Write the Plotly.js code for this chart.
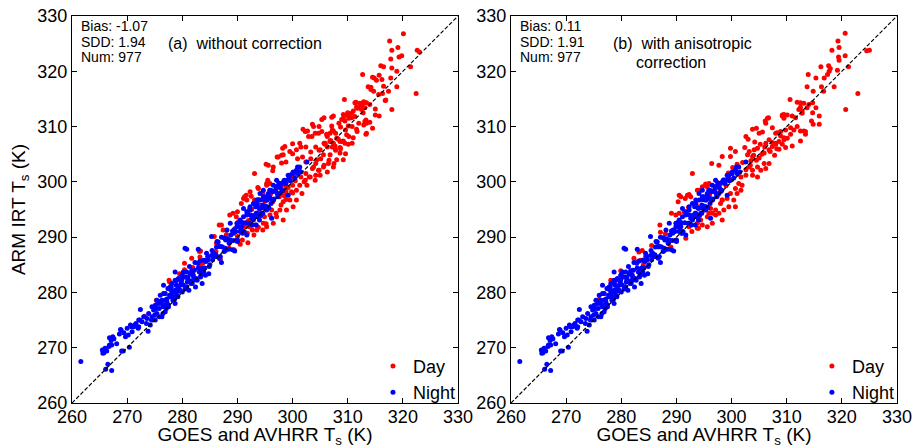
<!DOCTYPE html>
<html>
<head>
<meta charset="utf-8">
<script src="https://cdn.plot.ly/plotly-3.0.1.min.js"></script>
<style>html,body{margin:0;padding:0;background:#fff;}#chart{width:914px;height:448px;}</style>
</head>
<body>
<div id="chart"></div>
<script>
// ---- Data (x = GOES and AVHRR Ts, y = ARM IRT Ts), in K ----
const tickVals = [260, 270, 280, 290, 300, 310, 320, 330];
const oneToOneX = [260, 330];
const oneToOneY = [260, 330];

// Panel (a) daytime points
const dayA = [
[320.1,326.8],[317.6,325.5],[319.1,324.3],[318.0,323.8],[319.8,322.8],[317.8,322.2],[322.6,323.8],[323.0,323.5],[321.4,320.8],[318.0,320.6],
[316.0,321.0],[316.5,320.8],[318.9,320.0],[312.7,319.4],[314.8,318.8],[315.7,319.3],[316.2,318.5],[317.8,318.8],[316.5,317.3],[313.7,317.2],
[314.2,317.1],[318.9,317.2],[322.4,316.0],[314.7,316.4],[315.6,315.8],[317.4,316.4],[309.4,314.9],[311.5,314.4],[312.2,314.2],[312.8,314.2],
[313.4,314.3],[314.0,314.0],[311.9,313.4],[312.5,313.1],[313.1,313.4],[315.0,313.2],[316.8,314.7],[318.0,313.1],[311.0,312.8],[312.8,312.5],
[315.7,311.9],[314.0,310.8],[313.4,310.6],[309.2,312.2],[310.1,312.0],[310.7,311.6],[308.9,311.3],[309.5,311.0],[307.4,311.9],[305.7,311.6],
[310.1,310.1],[311.6,309.5],[313.3,308.6],[306.2,308.6],[307.4,309.2],[308.3,307.7],[309.2,307.4],[306.8,307.4],[305.9,306.8],[307.7,306.5],
[308.6,306.2],[310.1,306.8],[311.0,308.0],[307.1,310.1],[319.3,322.6],[315.2,318.4],[314.5,318.9],[314.2,316.7],[316.3,316.0],[316.9,314.8],
[311.3,314.3],[312.9,314.5],[311.7,313.3],[315.0,312.1],[310.0,312.5],[310.2,311.5],[313.3,311.2],[314.5,309.7],[310.8,310.0],[312.0,310.6],
[312.9,310.3],[308.4,310.6],[308.7,309.9],[307.1,311.7],[305.3,311.3],[303.6,310.4],[304.8,310.0],[302.7,309.2],[301.9,309.5],[307.2,309.4],
[307.8,308.8],[309.6,309.4],[311.7,309.1],[306.3,308.2],[306.9,307.5],[308.1,307.9],[309.0,307.3],[310.2,308.2],[310.8,307.0],[305.7,307.0],
[306.3,306.3],[307.2,306.3],[307.8,305.7],[308.7,306.0],[309.6,305.1],[304.2,306.3],[304.8,305.7],[303.3,305.4],[302.4,306.3],[301.5,306.3],
[300.0,306.9],[298.2,306.1],[297.2,304.5],[298.0,304.8],[298.8,303.6],[300.0,305.1],[300.9,304.2],[301.8,304.5],[302.4,303.6],[303.3,304.2],
[304.2,303.3],[305.1,304.2],[305.7,303.0],[306.6,303.9],[307.5,303.3],[303.6,302.4],[304.8,302.1],[306.3,301.8],[302.4,301.5],[301.2,302.1],
[301.5,300.9],[302.1,300.0],[303.0,300.9],[304.2,301.2],[300.6,301.5],[299.4,300.3],[298.5,299.4],[300.0,299.4],[293.1,301.5],[295.2,303.2],
[296.4,302.0],[295.5,300.3],[294.6,297.9],[293.1,296.7],[291.3,297.3],[290.7,296.1],[289.2,294.3],[288.6,294.0],[289.8,293.7],[292.2,295.2],
[294.0,295.8],[295.2,295.5],[296.4,296.4],[297.6,297.3],[298.8,298.2],[297.9,295.8],[297.0,294.3],[298.8,296.8],[300.0,298.0],[291.1,297.0],
[291.7,296.7],[292.3,298.2],[293.8,298.8],[295.3,299.4],[295.9,299.7],[295.6,303.0],[296.5,302.7],[297.4,304.5],[298.3,304.9],[298.0,303.4],
[298.6,306.4],[299.5,305.5],[300.7,305.8],[301.3,307.0],[302.3,309.1],[302.9,308.2],[303.5,308.2],[303.8,310.0],[304.1,308.8],[304.7,308.8],
[305.3,309.1],[306.2,308.5],[306.8,308.8],[305.0,305.8],[305.9,307.0],[306.8,307.3],[307.4,307.0],[308.0,307.9],[308.6,307.3],[309.5,307.0],
[309.8,308.5],[309.2,311.5],[309.8,312.1],[310.7,312.4],[311.3,311.8],[311.6,313.6],[312.5,313.9],[313.1,310.9],[313.4,308.8],[306.8,304.9],
[307.7,306.1],[308.6,305.2],[308.0,304.0],[309.2,304.0],[304.4,304.0],[305.6,304.9],[303.8,302.7],[304.7,302.1],[305.6,302.7],[306.5,303.3],
[307.4,302.7],[303.2,300.9],[304.1,300.3],[305.0,301.2],[302.3,300.3],[302.6,299.4],[301.3,299.4],[300.7,298.5],[301.7,297.9],[299.8,298.2],
[298.9,298.8],[299.5,296.7],[298.3,296.4],[300.7,296.7],[300.1,295.5],[298.9,294.9],[297.7,294.9],[297.1,293.7],[298.3,293.1],[296.5,292.5],
[295.3,291.9],[294.7,292.5],[293.5,291.3],[295.9,294.0],[296.2,294.9],[277.6,282.2],[280.4,284.1],[281.9,284.5],[283.3,287.5],[283.2,286.4],
[286.9,286.0],[287.1,292.2],[287.4,291.3],[290.0,294.6],[291.6,297.6],[292.5,297.4],[293.7,299.0],[295.3,299.7],[291.6,290.7],[292.2,291.9],
[294.0,294.6],[294.9,293.7],[286.7,292.2],[285.8,290.1],[286.2,288.9],[286.1,287.4],[283.1,287.4],[281.7,286.2],[280.4,285.3],[279.5,283.4],
[281.9,283.7],[277.7,281.9],[275.3,278.6],[283.1,285.0],[283.7,285.3],[288.5,288.0],[289.4,287.7],[290.9,289.5],[291.5,291.9],[292.7,291.3],
[293.3,292.2],[291.8,290.7],[290.0,290.1],[273.2,275.7],[292.0,293.0],[293.0,293.8],[294.2,294.0],[295.0,296.5],[296.0,297.8],[297.0,298.6],
[297.8,298.0],[298.5,297.5],[299.2,299.0],[299.8,300.8],[300.5,300.2],[293.8,296.8],[292.6,295.0],[291.0,292.6],[290.2,292.8],[289.5,291.5],
[288.0,290.5],[288.9,289.3],[287.8,289.6],[290.5,288.7],[291.9,289.0],[293.0,290.4],[294.6,291.3],[293.8,291.8],[295.2,292.4]
];

// Panel (a) night-time points
const nightA = [
[261.6,267.5],[266.1,266.1],[267.2,265.9],[266.5,267.0],[265.5,269.6],[266.0,269.9],[265.8,269.1],[266.3,269.4],[266.8,271.8],[267.4,272.0],
[267.1,271.3],[267.2,270.5],[266.7,270.2],[267.6,271.6],[269.0,269.4],[270.4,270.1],[268.1,270.7],[268.6,272.5],[268.8,273.3],[269.4,272.7],
[270.2,272.3],[270.8,273.8],[271.4,274.1],[272.0,273.5],[272.3,275.0],[273.0,275.6],[273.5,274.4],[273.8,273.0],[274.4,275.0],[275.0,275.9],
[275.3,277.1],[275.9,275.6],[276.5,276.2],[276.2,278.0],[276.8,278.6],[277.1,277.1],[277.7,279.5],[277.4,280.7],[278.0,281.0],[278.3,278.6],
[278.6,280.1],[278.9,281.3],[279.2,279.2],[279.5,280.4],[279.8,281.9],[279.9,283.1],[280.5,288.0],[280.2,283.7],[280.7,281.0],[281.0,282.5],
[281.3,284.7],[281.6,281.6],[281.9,283.1],[282.2,284.0],[282.5,282.5],[282.8,285.3],[283.1,283.7],[283.4,283.1],[283.7,284.4],[284.3,285.6],
[284.6,286.5],[284.9,284.7],[285.3,290.1],[285.5,285.9],[286.1,286.8],[286.7,286.2],[287.0,288.3],[287.1,285.4],[287.6,287.4],[287.9,289.5],
[288.5,288.9],[288.8,290.4],[289.1,287.7],[289.4,291.3],[290.0,289.2],[290.3,291.9],[290.9,290.7],[289.5,287.5],[282.9,287.8],[300.9,302.7],
[301.5,301.8],[300.0,301.5],[299.4,300.9],[298.5,300.3],[297.6,299.6],[297.0,299.1],[298.2,298.5],[296.4,298.2],[297.3,297.3],[295.8,297.3],
[295.2,296.7],[296.1,296.1],[294.6,295.8],[294.0,295.2],[295.2,295.2],[293.4,294.3],[294.6,294.3],[292.8,293.4],[294.0,293.1],[292.2,292.5],
[293.4,292.2],[265.6,269.0],[266.8,270.5],[269.3,269.4],[268.9,273.2],[269.7,272.0],[270.0,273.5],[270.6,274.1],[271.2,273.8],[270.9,272.9],
[271.6,274.4],[272.1,275.0],[272.7,274.7],[272.1,273.8],[273.6,275.3],[273.9,276.2],[274.5,275.6],[274.2,274.1],[274.8,276.8],[275.4,276.2],
[275.8,277.1],[275.1,275.0],[276.3,275.6],[272.4,276.9],[276.6,277.7],[277.2,278.3],[277.5,277.4],[276.9,276.5],[277.8,279.2],[278.4,278.6],
[278.1,279.8],[279.0,279.5],[278.7,280.4],[279.3,280.7],[279.6,281.3],[280.0,280.1],[280.6,281.0],[280.9,281.9],[281.2,280.4],[281.8,281.6],
[282.1,282.5],[282.4,281.0],[282.7,282.2],[283.3,282.8],[283.6,281.6],[284.2,283.1],[283.9,283.7],[284.8,283.4],[276.0,279.5],[276.3,278.6],
[276.9,279.8],[277.5,280.7],[278.1,281.6],[278.7,282.2],[279.3,282.5],[280.0,283.1],[280.6,282.8],[281.5,283.4],[275.7,278.0],[275.1,277.7],
[274.5,277.4],[275.4,278.6],[276.6,279.8],[277.8,281.0],[279.0,282.2],[280.2,282.8],[281.4,283.4],[279.6,280.4],[278.4,279.2],[280.8,281.0],
[282.0,282.2],[277.2,277.4],[278.7,278.0],[280.8,287.8],[278.7,283.7],[276.6,281.3],[284.4,285.8],[285.3,286.7],[286.2,288.2],[286.5,289.1],
[287.1,290.0],[287.8,287.6],[288.7,289.4],[289.3,290.7],[289.9,291.9],[290.5,293.1],[291.1,293.7],[291.7,294.6],[292.3,295.5],[293.5,296.1],
[294.1,296.7],[295.0,297.3],[295.9,298.5],[297.1,299.1],[298.0,299.7],[288.7,292.5],[288.1,291.3],[290.5,291.0],[291.7,290.4],[292.9,293.1],
[293.5,294.3],[295.3,295.5],[296.5,296.7],[295.6,297.9],[294.7,298.5],[291.1,295.2],[292.3,294.9],[292.9,296.1],[293.5,296.7],[294.1,297.9],
[294.7,297.3],[295.9,298.5],[296.5,299.4],[297.1,300.3],[297.7,299.1],[298.9,300.3],[299.5,301.2],[300.1,301.8],[300.7,302.1],[301.0,301.5],
[301.3,302.7],[302.6,303.6],[291.7,294.0],[292.6,293.4],[294.4,294.3],[295.3,294.9],[296.5,296.7],[296.2,293.4],[297.7,297.9],[299.2,297.6],
[289.9,292.5],[290.8,291.9],[289.6,291.0],[276.1,278.4],[276.5,277.4],[276.8,279.8],[277.2,278.8],[277.4,277.8],[277.9,280.5],[278.1,279.3],
[278.6,278.8],[278.8,282.1],[279.2,281.1],[279.4,280.2],[279.9,282.3],[280.1,281.4],[280.5,280.6],[280.8,283.7],[281.0,282.7],[281.4,282.0],
[281.7,283.9],[282.0,283.1],[282.3,285.4],[282.6,282.4],[282.9,284.4],[283.2,285.7],[283.5,284.2],[283.9,285.8],[284.1,284.4],[284.4,287.1],
[284.7,285.9],[285.0,285.0],[285.4,287.6],[285.7,287.1],[286.0,286.5],[286.3,289.2],[286.6,288.3],[286.9,286.5],[287.3,288.2],[287.6,289.9],
[287.8,288.0],[288.2,289.7],[288.4,287.8],[288.7,289.5],[289.1,291.1],[289.3,289.4],[289.7,291.0],[290.0,289.5],[290.3,292.7],[290.6,291.2],
[290.9,292.6],[291.2,291.0],[291.5,292.6],[291.8,294.4],[292.1,292.5],[292.4,294.0],[292.7,292.2],[293.0,293.9],[293.3,295.5],[293.6,293.7],
[293.9,295.3],[294.2,293.9],[294.5,295.3],[294.8,296.8],[295.1,295.6],[295.4,296.7],[295.7,295.3],[296.0,297.0],[296.3,298.4],[296.6,296.9],
[296.9,298.4],[297.2,297.9],[297.5,299.8],[297.8,298.9],[298.1,298.3],[298.4,300.1],[298.8,299.7],[299.2,301.2],[299.6,300.2],[300.1,301.5],
[300.4,300.7]
];

// Panel (b) daytime points (after anisotropic correction)
const dayB = [
[320.6,326.9],[319.3,325.5],[319.5,324.3],[318.2,323.8],[319.4,322.6],[319.5,322.0],[320.6,322.8],[324.5,323.7],[325.0,323.8],[321.2,320.8],
[319.2,320.2],[316.2,320.8],[317.6,321.0],[317.9,320.5],[313.9,319.4],[315.3,318.8],[316.8,318.8],[317.4,319.4],[317.7,320.0],[316.3,317.2],
[318.6,317.2],[313.7,317.2],[322.9,316.0],[314.8,316.4],[316.7,316.4],[310.6,314.9],[311.9,314.4],[312.5,314.3],[313.1,314.2],[314.0,314.0],
[314.7,314.3],[312.2,313.1],[312.8,312.8],[313.7,313.4],[314.7,312.5],[315.3,313.4],[315.9,311.9],[320.7,313.1],[309.5,312.2],[309.2,311.9],
[311.0,311.9],[311.6,311.6],[306.7,311.6],[306.1,311.0],[307.4,309.8],[310.7,309.8],[312.5,309.2],[313.1,309.2],[314.5,311.0],[314.8,310.4],
[315.9,310.4],[305.6,309.0],[308.3,308.9],[308.9,308.3],[309.5,308.0],[310.7,308.6],[313.4,308.6],[307.4,307.1],[308.0,306.8],[309.2,306.8],
[309.8,306.2],[311.0,306.5],[308.6,305.9],[312.5,307.4],[292.9,301.5],[290.8,297.3],[291.6,297.0],[290.3,296.4],[292.3,297.7],[293.8,298.5],
[294.7,299.1],[295.3,299.4],[295.9,299.7],[296.4,303.3],[297.7,303.0],[298.3,304.6],[299.8,304.6],[299.8,306.1],[300.7,305.5],[302.6,308.2],
[303.0,307.7],[303.8,309.5],[304.5,309.7],[305.0,308.8],[306.2,310.6],[306.5,311.5],[309.2,312.1],[309.5,311.5],[310.1,312.1],[312.5,313.5],
[312.8,312.4],[313.4,309.1],[311.9,310.0],[311.3,309.4],[303.2,305.5],[304.1,305.8],[304.7,306.1],[302.9,304.9],[303.8,304.6],[304.5,303.9],
[305.0,304.3],[305.9,305.2],[306.8,305.8],[307.4,306.4],[308.0,307.0],[308.6,307.3],[309.5,307.6],[310.1,307.9],[308.0,308.8],[308.9,309.1],
[309.8,309.4],[306.2,307.0],[306.8,307.6],[303.2,302.7],[303.8,302.1],[304.7,302.7],[305.3,302.1],[306.2,302.4],[306.8,303.3],[305.9,303.3],
[303.8,301.2],[304.7,300.9],[302.6,301.2],[301.7,300.9],[301.3,299.7],[301.9,299.4],[300.7,298.8],[301.0,297.9],[301.7,298.5],[299.8,297.9],
[299.2,297.0],[298.3,296.7],[300.4,296.7],[300.7,295.5],[299.5,295.5],[298.6,294.9],[297.7,294.3],[297.1,294.0],[298.3,293.1],[296.5,292.5],
[295.6,291.9],[294.7,292.2],[293.8,291.6],[295.9,294.3],[296.2,295.2],[302.0,303.5],[303.5,303.8],[305.5,305.0],[306.0,306.3],[307.0,305.5],
[307.8,304.8],[308.2,306.0],[304.2,307.2],[305.2,306.8],[302.4,306.2],[301.0,303.2],[300.2,302.6],[299.4,301.6],[298.6,300.4],[297.6,299.8],
[296.8,298.4],[297.4,297.4],[298.0,298.6],[299.0,299.3],[300.0,300.4],[301.2,301.4],[302.6,302.2],[303.4,303.0],[304.0,304.8],[278.1,282.2],
[276.0,278.7],[279.9,283.9],[282.0,284.0],[283.2,287.3],[283.8,287.6],[283.5,285.8],[282.9,285.5],[287.0,292.2],[287.1,290.9],[286.5,289.1],
[286.8,288.2],[289.1,294.3],[289.9,294.0],[290.5,294.3],[291.4,294.6],[290.5,297.6],[292.0,297.6],[292.6,297.3],[295.3,299.6],[295.6,299.1],
[294.1,298.5],[291.1,290.7],[291.7,289.8],[292.3,291.9],[295.0,294.9],[295.6,293.7],[296.5,294.3],[297.1,294.9],[298.0,296.1],[298.3,296.7],
[293.8,292.5],[294.4,293.1],[275.8,278.6],[278.7,281.6],[282.3,286.2],[284.4,286.5],[284.0,285.0],[285.5,288.5],[288.0,290.6],[288.8,289.4],
[289.6,291.2],[290.2,292.4],[292.8,293.6],[293.6,295.8],[292.2,295.4],[294.8,296.8],[296.0,297.6],[297.0,298.3],[289.0,288.2],[290.0,289.4],
[292.8,291.0],[294.0,291.6]
];

// Panel (b) night-time points: visually identical to panel (a)
const nightB = nightA;

const seriesNames = ['Day', 'Night'];
const seriesColors = ['#ff0000', '#0000ff'];

// ---- Build the figure ----
const FONT = 'Liberation Sans, Arial, Helvetica, sans-serif';
const col = (arr, i) => arr.map(p => p[i]);

function scatter(pts, name, color, xa, ya, legend) {
  return {
    type: 'scatter', mode: 'markers', name: name,
    x: col(pts, 0), y: col(pts, 1), xaxis: xa, yaxis: ya, legend: legend,
    marker: {color: color, size: 5, line: {width: 0}},
    hoverinfo: 'x+y'
  };
}
function diag(xa, ya) {
  return {type: 'scatter', mode: 'lines', x: oneToOneX, y: oneToOneY, xaxis: xa, yaxis: ya,
    showlegend: false, line: {color: '#000', width: 1.2, dash: '4px,2px'}, hoverinfo: 'skip'};
}

const data = [
  scatter(dayA, seriesNames[0], seriesColors[0], 'x', 'y', 'legend'),
  scatter(nightA, seriesNames[1], seriesColors[1], 'x', 'y', 'legend'),
  diag('x', 'y'),
  scatter(dayB, seriesNames[0], seriesColors[0], 'x2', 'y2', 'legend2'),
  scatter(nightB, seriesNames[1], seriesColors[1], 'x2', 'y2', 'legend2'),
  diag('x2', 'y2')
];

function axis(extra) {
  return Object.assign({
    range: [260, 330], tickvals: tickVals, ticks: 'inside', ticklen: 5, tickwidth: 1, tickcolor: '#000',
    showline: true, linecolor: '#000', linewidth: 1, mirror: 'ticks', showgrid: false, zeroline: false,
    tickfont: {family: FONT, size: 18, color: '#000'}, fixedrange: true
  }, extra);
}
const xTitle = {text: 'GOES and AVHRR T<sub>s</sub> (K)', font: {family: FONT, size: 19, color: '#000'}, standoff: 2};

const legendBase = {
  bgcolor: 'rgba(0,0,0,0)', borderwidth: 0, font: {family: FONT, size: 18, color: '#000'},
  xanchor: 'right', yanchor: 'bottom', y: -0.02, itemwidth: 30, tracegroupgap: 0, traceorder: 'normal'
};

const ann = (text, xref, yref, x, y, size, xanchor) => ({
  text: text, xref: xref, yref: yref, x: x, y: y, showarrow: false, xanchor: xanchor || 'left', yanchor: 'middle',
  font: {family: FONT, size: size, color: '#000'}
});

const layout = {
  width: 914, height: 448,
  margin: {l: 72, r: 17, t: 16, b: 45},
  paper_bgcolor: '#fff', plot_bgcolor: '#fff',
  showlegend: true,
  xaxis: axis({domain: [0, 0.4679], anchor: 'y', title: xTitle, ticklabelstandoff: -3}),
  yaxis: axis({domain: [0, 1], anchor: 'x', title: {text: 'ARM IRT T<sub>s</sub> (K)', font: {family: FONT, size: 19, color: '#000'}, standoff: 6}}),
  xaxis2: axis({domain: [0.5321, 1], anchor: 'y2', title: xTitle, ticklabelstandoff: -3}),
  yaxis2: axis({domain: [0, 1], anchor: 'x2'}),
  legend: Object.assign({x: 0.4715}, legendBase),
  legend2: Object.assign({x: 1.0035}, legendBase),
  annotations: [
    ann('Bias: -1.07', 'x domain', 'y domain', 0.018, 0.974, 14),
    ann('SDD: 1.94', 'x domain', 'y domain', 0.018, 0.933, 14),
    ann('Num: 977', 'x domain', 'y domain', 0.018, 0.894, 14),
    ann('(a)  without correction', 'x domain', 'y domain', 0.447, 0.930, 16, 'center'),
    ann('Bias: 0.11', 'x2 domain', 'y2 domain', 0.018, 0.974, 14),
    ann('SDD: 1.91', 'x2 domain', 'y2 domain', 0.018, 0.933, 14),
    ann('Num: 977', 'x2 domain', 'y2 domain', 0.018, 0.894, 14),
    ann('(b)  with anisotropic', 'x2 domain', 'y2 domain', 0.259, 0.930, 16),
    ann('correction', 'x2 domain', 'y2 domain', 0.319, 0.879, 16)
  ]
};

Plotly.newPlot('chart', data, layout, {displayModeBar: false, staticPlot: true});
</script>
</body>
</html>
